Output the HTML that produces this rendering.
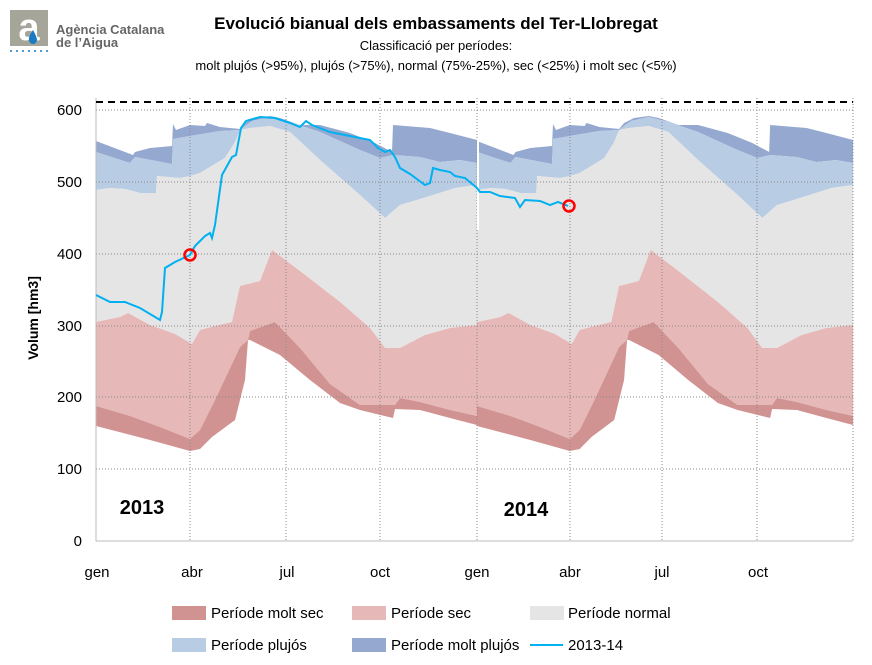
<!DOCTYPE html>
<html><head><meta charset="utf-8"><style>
body{margin:0;background:#fff;}
svg{display:block;font-family:"Liberation Sans",sans-serif;}
</style></head><body>
<svg width="872" height="665" viewBox="0 0 872 665">
<rect width="872" height="665" fill="#fff"/>
<!-- logo -->
<rect x="10" y="10" width="38" height="36" fill="#a6a59a"/>
<text x="29" y="40" font-size="38" font-weight="bold" fill="#fff" text-anchor="middle">a</text>
<path d="M33 30 q-5 7 -4 10 a4 4 0 0 0 8 0 q0 -3 -4 -10z" fill="#1a7bc4"/>
<g fill="#1a7bc4"><circle cx="11" cy="51" r="1"/><circle cx="17" cy="51" r="1"/><circle cx="23" cy="51" r="1"/><circle cx="29" cy="51" r="1"/><circle cx="35" cy="51" r="1"/><circle cx="41" cy="51" r="1"/><circle cx="47" cy="51" r="1"/></g>
<text x="56" y="34" font-size="13" font-weight="bold" fill="#666">Agència Catalana</text>
<text x="56" y="47" font-size="13" font-weight="bold" fill="#666">de l’Aigua</text>
<text x="436" y="29" font-size="17" font-weight="bold" text-anchor="middle">Evolució bianual dels embassaments del Ter-Llobregat</text>
<text x="436" y="50" font-size="13" text-anchor="middle">Classificació per períodes:</text>
<text x="436" y="70" font-size="13" text-anchor="middle">molt plujós (&gt;95%), plujós (&gt;75%), normal (75%-25%), sec (&lt;25%) i molt sec (&lt;5%)</text>
<defs>
<g id="yr">
<polygon fill="#94a8d0" points="96,141 133,155 135,152 150,148 172,146 173,124 176,130 190,125 205,126 207,123 220,127 240,129 245,123 255,118 270,116 280,118 300,125 320,125 350,133 375,143 392,152 393,125 430,128 450,133 477,140 477,163 460,160 440,162 420,157 393,155 380,158 360,150 320,132 290,122 270,117 252,121 245,126 240,130 220,131 190,136 173,139 172,164 135,157 130,163 96,152"/>
<polygon fill="#b8cce4" points="96,152 130,163 135,157 172,164 173,139 190,136 220,131 240,130 245,126 252,121 270,117 290,122 320,132 360,150 380,158 393,155 420,157 440,162 460,160 477,163 477,185 455,188 430,196 400,205 385,218 360,195 320,160 290,132 270,126 250,128 240,130 235,142 225,158 200,173 190,176 180,178 157,176 156,193 140,193 125,189 110,188 96,190"/>
<polygon fill="#e5e5e5" points="96,190 110,188 125,189 140,193 156,193 157,176 180,178 190,176 200,173 225,158 235,142 240,130 250,128 270,126 290,132 320,160 360,195 385,218 400,205 430,196 455,188 477,185 477,325 450,328 425,335 400,348 385,348 370,328 340,302 300,271 272,250 260,281 240,286 232,322 215,326 200,330 192,344 175,334 150,325 128,313 120,317 96,322"/>
<polygon fill="#e6b8b7" points="96,322 120,317 128,313 150,325 175,334 192,344 200,330 215,326 232,322 240,286 260,281 272,250 300,271 340,302 370,328 385,348 400,348 425,335 450,328 477,325 477,416 450,410 420,402 400,398 395,405 360,405 330,384 300,348 275,322 250,331 248,340 240,347 215,400 200,430 190,439 160,427 130,416 96,406"/>
<polygon fill="#d09392" points="96,406 130,416 160,427 190,439 200,430 215,400 240,347 248,340 250,331 275,322 300,348 330,384 360,405 395,405 400,398 420,402 450,410 477,416 477,425 450,418 420,410 395,409 393,418 360,410 340,403 310,380 280,355 250,340 248,340 245,380 235,420 212,437 200,449 190,451 150,440 96,426"/>
</g>
</defs>
<use href="#yr"/>
<use href="#yr" transform="translate(477,0) scale(0.987,1) translate(-96,0)"/>
<!-- grid -->
<g stroke="#888" stroke-dasharray="1,2" stroke-width="1">
<line x1="96" y1="110" x2="853" y2="110"/><line x1="96" y1="182" x2="853" y2="182"/><line x1="96" y1="254" x2="853" y2="254"/><line x1="96" y1="326" x2="853" y2="326"/><line x1="96" y1="397" x2="853" y2="397"/><line x1="96" y1="469" x2="853" y2="469"/>
<line x1="190" y1="98" x2="190" y2="541"/><line x1="286" y1="98" x2="286" y2="541"/><line x1="380" y1="98" x2="380" y2="541"/><line x1="477" y1="98" x2="477" y2="541"/><line x1="570" y1="98" x2="570" y2="541"/><line x1="662" y1="98" x2="662" y2="541"/><line x1="757" y1="98" x2="757" y2="541"/><line x1="853" y1="98" x2="853" y2="541"/>
</g>
<line x1="96" y1="98" x2="96" y2="541" stroke="#bbb"/>
<line x1="96" y1="541" x2="853" y2="541" stroke="#bbb"/>
<line x1="478" y1="140" x2="478" y2="230" stroke="#fff" stroke-width="2"/>
<line x1="96" y1="102" x2="853" y2="102" stroke="#000" stroke-width="2" stroke-dasharray="7,5"/>
<polyline fill="none" stroke="#00b0f0" stroke-width="2" points="96,295 110,302 125,302 140,308 160,320 162,312 165,268 175,262 190,255 195,246 205,236 210,233 212,238 215,225 222,175 232,157 236,155 241,128 246,121 260,117 275,118 290,123 300,127 306,121 312,125 330,132 350,136 370,140 378,148 385,152 390,150 395,157 400,168 410,174 425,185 430,183 433,168 440,170 450,172 455,176 465,178 477,188 480,192 490,192 500,196 515,198 520,207 525,200 540,201 550,205 558,202 568,206"/>
<circle cx="190" cy="255" r="5.5" fill="none" stroke="#f00" stroke-width="2.5"/>
<circle cx="569" cy="206" r="5.5" fill="none" stroke="#f00" stroke-width="2.5"/>
<g font-size="15" text-anchor="end">
<text x="82" y="115">600</text><text x="82" y="187">500</text><text x="82" y="259">400</text><text x="82" y="331">300</text><text x="82" y="402">200</text><text x="82" y="474">100</text><text x="82" y="546">0</text>
</g>
<text transform="translate(38,318) rotate(-90)" font-size="14" font-weight="bold" text-anchor="middle">Volum [hm3]</text>
<g font-size="15" text-anchor="middle">
<text x="97" y="577">gen</text><text x="192" y="577">abr</text><text x="287" y="577">jul</text><text x="380" y="577">oct</text><text x="477" y="577">gen</text><text x="570" y="577">abr</text><text x="662" y="577">jul</text><text x="758" y="577">oct</text>
</g>
<text x="142" y="514" font-size="20" font-weight="bold" text-anchor="middle">2013</text>
<text x="526" y="516" font-size="20" font-weight="bold" text-anchor="middle">2014</text>
<g font-size="15">
<rect x="172" y="606" width="34" height="14" fill="#d09392"/><text x="211" y="618">Període molt sec</text>
<rect x="352" y="606" width="34" height="14" fill="#e6b8b7"/><text x="391" y="618">Període sec</text>
<rect x="530" y="606" width="34" height="14" fill="#e5e5e5"/><text x="568" y="618">Període normal</text>
<rect x="172" y="638" width="34" height="14" fill="#b8cce4"/><text x="211" y="650">Període plujós</text>
<rect x="352" y="638" width="34" height="14" fill="#94a8d0"/><text x="391" y="650">Període molt plujós</text>
<line x1="530" y1="645" x2="563" y2="645" stroke="#00b0f0" stroke-width="2"/><text x="568" y="650">2013-14</text>
</g>
</svg>
</body></html>
